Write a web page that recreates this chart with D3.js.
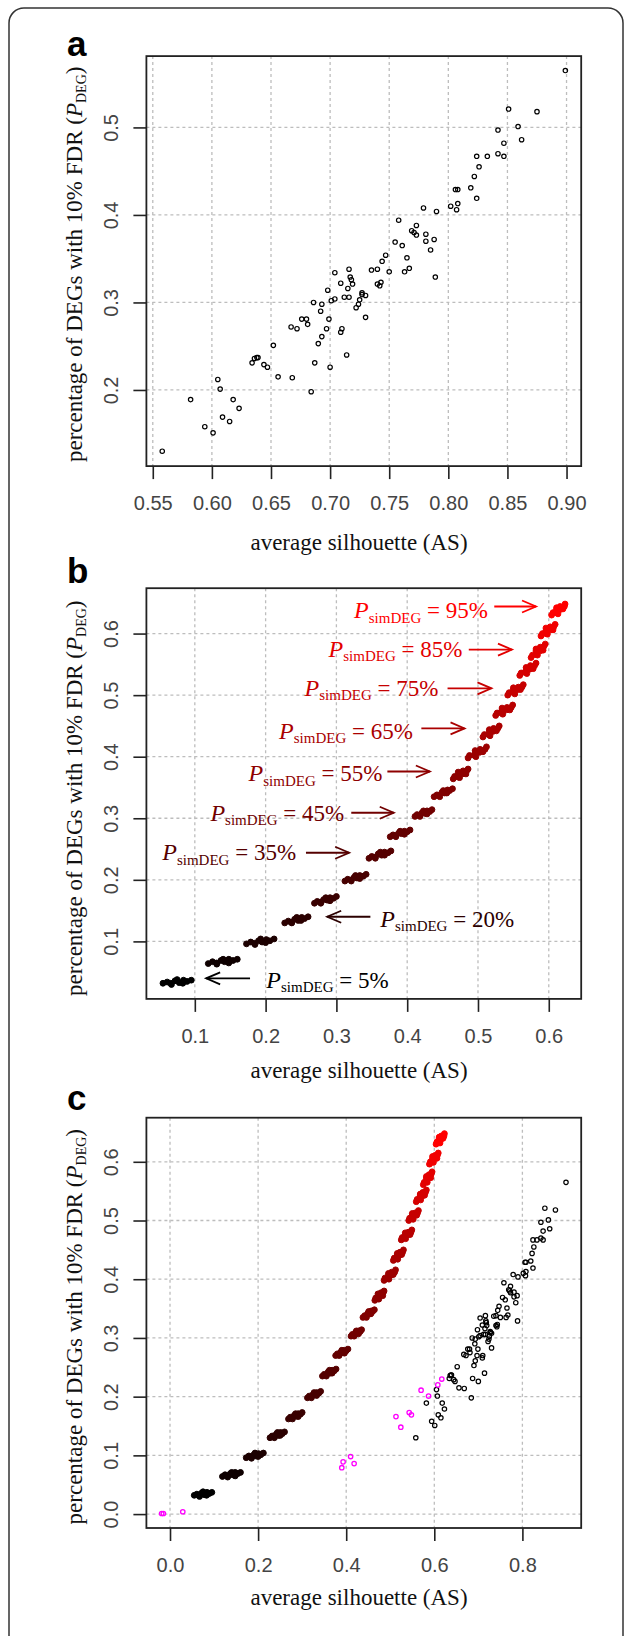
<!DOCTYPE html>
<html>
<head>
<meta charset="utf-8">
<script src="https://cdn.jsdelivr.net/npm/d3@7"></script>
<style>
  body { margin: 0; background: #fff; }
</style>
</head>
<body>
<svg id="fig" width="627" height="1636"></svg>
<script>
// real data sets (AS, P_DEG) - panel a and black circles of panel c
const realPoints = [
  [0.558,0.130],[0.582,0.189],[0.594,0.158],[0.601,0.151],[0.605,0.212],[0.607,0.201],[0.609,0.169],[0.615,0.164],[0.618,0.189],[0.623,0.179],
  [0.634,0.231],[0.636,0.236],[0.638,0.237],[0.639,0.237],[0.644,0.229],[0.647,0.226],[0.652,0.251],[0.656,0.215],[0.667,0.272],[0.668,0.214],
  [0.672,0.270],[0.676,0.281],[0.680,0.281],[0.681,0.275],[0.684,0.198],[0.686,0.300],[0.687,0.231],[0.690,0.253],[0.692,0.290],[0.693,0.298],
  [0.693,0.261],[0.697,0.270],[0.698,0.314],[0.699,0.281],[0.700,0.226],[0.701,0.302],[0.704,0.334],[0.704,0.304],[0.709,0.322],[0.709,0.266],
  [0.710,0.270],[0.712,0.306],[0.714,0.240],[0.715,0.316],[0.716,0.338],[0.716,0.306],[0.717,0.329],[0.718,0.326],[0.719,0.321],[0.722,0.294],
  [0.724,0.298],[0.725,0.303],[0.727,0.311],[0.727,0.309],[0.730,0.308],[0.730,0.283],[0.735,0.337],[0.740,0.338],[0.744,0.347],[0.747,0.354],
  [0.740,0.321],[0.742,0.319],[0.743,0.323],[0.750,0.335],[0.755,0.369],[0.758,0.394],[0.761,0.365],[0.763,0.335],[0.765,0.351],[0.767,0.339],
  [0.769,0.382],[0.771,0.380],[0.773,0.388],[0.773,0.377],[0.781,0.378],[0.781,0.370],[0.785,0.360],[0.788,0.372],[0.789,0.329],[0.779,0.408],
  [0.790,0.404],[0.802,0.410],[0.806,0.429],[0.808,0.429],[0.808,0.413],[0.807,0.406],[0.819,0.431],[0.822,0.444],[0.824,0.419],[0.826,0.455],
  [0.824,0.467],[0.833,0.467],[0.842,0.470],[0.847,0.467],[0.847,0.482],[0.842,0.497],[0.862,0.486],[0.859,0.501],[0.851,0.521],[0.875,0.518],
  [0.899,0.565]
];

// simulated data sets, one group per P_simDEG level
const simLevels = [5,10,15,20,25,30,35,40,45,50,55,60,65,70,75,80,85,90,95];
const simPoints = [
  [[.055,.032],[.061,.034],[.066,.032],[.072,.036],[.078,.033],[.084,.037],[.089,.035],[.095,.037],[.067,.030],[.075,.038],[.083,.032]],
  [[.119,.064],[.125,.067],[.131,.065],[.137,.069],[.142,.067],[.148,.071],[.154,.069],[.160,.071],[.131,.063],[.140,.071],[.148,.065]],
  [[.173,.096],[.179,.099],[.184,.097],[.190,.101],[.195,.099],[.201,.103],[.206,.101],[.212,.104],[.185,.095],[.193,.104],[.200,.098]],
  [[.227,.130],[.232,.133],[.236,.131],[.241,.136],[.246,.134],[.251,.139],[.255,.137],[.260,.140],[.237,.130],[.244,.139],[.250,.134]],
  [[.269,.162],[.273,.165],[.278,.164],[.282,.168],[.287,.167],[.291,.171],[.296,.170],[.300,.173],[.278,.162],[.285,.171],[.291,.166]],
  [[.312,.198],[.316,.201],[.321,.200],[.325,.204],[.329,.203],[.333,.207],[.338,.206],[.342,.209],[.321,.198],[.327,.207],[.333,.202]],
  [[.346,.235],[.350,.238],[.355,.237],[.359,.242],[.364,.240],[.368,.245],[.373,.244],[.377,.247],[.355,.235],[.362,.245],[.368,.240]],
  [[.376,.270],[.380,.273],[.384,.272],[.388,.276],[.392,.275],[.396,.279],[.400,.278],[.404,.281],[.384,.270],[.390,.279],[.396,.274]],
  [[.411,.303],[.414,.306],[.418,.305],[.421,.309],[.425,.308],[.428,.312],[.432,.311],[.435,.314],[.418,.303],[.423,.312],[.428,.307]],
  [[.438,.335],[.442,.338],[.445,.337],[.449,.342],[.453,.341],[.457,.346],[.460,.345],[.464,.348],[.446,.335],[.451,.345],[.456,.341]],
  [[.465,.364],[.467,.368],[.472,.367],[.473,.372],[.478,.372],[.479,.377],[.484,.377],[.486,.380],[.474,.366],[.472,.375],[.483,.372]],
  [[.486,.398],[.488,.402],[.495,.402],[.496,.407],[.502,.407],[.503,.412],[.510,.412],[.512,.416],[.497,.400],[.496,.410],[.507,.408]],
  [[.507,.432],[.509,.436],[.515,.436],[.516,.441],[.521,.441],[.522,.446],[.528,.446],[.530,.450],[.517,.434],[.516,.444],[.526,.442]],
  [[.525,.467],[.527,.471],[.533,.471],[.534,.476],[.540,.476],[.541,.480],[.547,.480],[.549,.484],[.535,.469],[.534,.479],[.545,.476]],
  [[.542,.500],[.544,.504],[.550,.504],[.550,.509],[.556,.509],[.557,.513],[.562,.513],[.564,.517],[.552,.502],[.550,.512],[.560,.509]],
  [[.559,.532],[.561,.536],[.567,.537],[.568,.542],[.573,.542],[.574,.548],[.580,.548],[.582,.552],[.569,.535],[.568,.545],[.578,.543]],
  [[.575,.561],[.577,.565],[.582,.566],[.582,.572],[.588,.572],[.588,.578],[.593,.579],[.595,.583],[.584,.565],[.582,.575],[.592,.573]],
  [[.589,.596],[.591,.600],[.596,.600],[.596,.605],[.602,.606],[.602,.611],[.607,.611],[.609,.615],[.598,.599],[.596,.609],[.606,.606]],
  [[.604,.630],[.606,.634],[.611,.634],[.611,.639],[.616,.639],[.616,.644],[.622,.644],[.623,.648],[.613,.632],[.611,.642],[.620,.640]]
];

// magenta points in panel c
const magentaPoints = [
  [-0.019,0.001],[-0.015,0.001],[0.029,0.004],[0.390,0.079],[0.393,0.089],[0.410,0.098],[0.418,0.086],
  [0.513,0.166],[0.524,0.148],[0.543,0.173],[0.548,0.169],[0.570,0.211],[0.587,0.201],[0.608,0.220],[0.617,0.230]
];

// panel b annotations (data coordinates)
const annotLevels = [95,85,75,65,55,45,35,20,5];
const annotText = [[0.325,0.625],[0.289,0.562],[0.255,0.499],[0.219,0.429],[0.176,0.360],[0.122,0.296],[0.054,0.232],[0.362,0.124],[0.201,0.025]];
const annotTail = [[0.523,0.644],[0.487,0.574],[0.457,0.511],[0.420,0.446],[0.372,0.376],[0.321,0.309],[0.257,0.244],[0.348,0.140],[0.178,0.040]];
const annotHead = [[0.582,0.644],[0.548,0.574],[0.519,0.511],[0.481,0.446],[0.432,0.376],[0.381,0.309],[0.318,0.244],[0.287,0.140],[0.116,0.040]];

// ticks
const ticksAx = [0.55,0.60,0.65,0.70,0.75,0.80,0.85,0.90];
const ticksAy = [0.2,0.3,0.4,0.5];
const ticksBx = [0.1,0.2,0.3,0.4,0.5,0.6];
const ticksBy = [0.1,0.2,0.3,0.4,0.5,0.6];
const ticksCx = [0.0,0.2,0.4,0.6,0.8];
const ticksCy = [0.0,0.1,0.2,0.3,0.4,0.5,0.6];

const sans = "'Liberation Sans', Arial, sans-serif";
const serif = "'Liberation Serif', 'Times New Roman', serif";
const boxL = 146.4, boxR = 581.2;

const svg = d3.select("#fig");
svg.append("rect")
  .attr("x", 9).attr("y", 8).attr("width", 614).attr("height", 1650).attr("rx", 15)
  .attr("fill", "none").attr("stroke", "#333").attr("stroke-width", 1.5);

const simColor = d3.scaleLinear().domain([5, 95]).range(["#000000", "#ff0000"]);

function drawPanel(p) {
  const x = d3.scaleLinear().domain(p.xDomain).range([boxL, boxR]);
  const y = d3.scaleLinear().domain(p.yDomain).range([p.bottom, p.top]);
  const g = svg.append("g");

  // dotted grid
  g.append("g").selectAll("line").data(p.xTicks).join("line")
    .attr("x1", d => x(d)).attr("x2", d => x(d)).attr("y1", p.top).attr("y2", p.bottom)
    .attr("stroke", "#bdbdbd").attr("stroke-width", 1.3).attr("stroke-dasharray", "3,3");
  g.append("g").selectAll("line").data(p.yTicks).join("line")
    .attr("y1", d => y(d)).attr("y2", d => y(d)).attr("x1", boxL).attr("x2", boxR)
    .attr("stroke", "#bdbdbd").attr("stroke-width", 1.3).attr("stroke-dasharray", "3,3");

  // axes
  const xa = g.append("g").attr("transform", `translate(0,${p.bottom})`)
    .call(d3.axisBottom(x).tickValues(p.xTicks).tickFormat(d3.format(p.xFmt)).tickSize(13).tickPadding(17));
  xa.select(".domain").remove();
  xa.selectAll("line").attr("stroke", "#222").attr("stroke-width", 1.6);
  xa.selectAll("text").attr("font-family", sans).attr("font-size", 20).attr("fill", "#444");

  const ya = g.append("g").attr("transform", `translate(${boxL},0)`)
    .call(d3.axisLeft(y).tickValues(p.yTicks).tickFormat(d3.format(".1f")).tickSize(13));
  ya.select(".domain").remove();
  ya.selectAll("line").attr("stroke", "#222").attr("stroke-width", 1.6);
  ya.selectAll("text").attr("x", null).attr("dy", null)
    .attr("transform", "translate(-28,0) rotate(-90)").attr("text-anchor", "middle")
    .attr("font-family", sans).attr("font-size", 20).attr("fill", "#444");

  // marks
  p.layers.forEach(layer => layer(g, x, y));

  // box
  g.append("rect").attr("x", boxL).attr("y", p.top).attr("width", boxR - boxL).attr("height", p.bottom - p.top)
    .attr("fill", "none").attr("stroke", "#222").attr("stroke-width", 1.8);

  // panel letter
  svg.append("text").attr("x", 67).attr("y", p.letterY).text(p.letter)
    .attr("font-family", sans).attr("font-weight", "bold").attr("font-size", 35).attr("fill", "#000");

  // axis titles
  svg.append("text").attr("x", 359).attr("y", p.xTitleY).attr("text-anchor", "middle")
    .attr("font-family", serif).attr("font-size", 23).attr("fill", "#111")
    .text("average silhouette (AS)");

  const yt = svg.append("text").attr("transform", `translate(82,${p.yTitleY}) rotate(-90)`)
    .attr("text-anchor", "middle").attr("font-family", serif).attr("font-size", 23).attr("fill", "#111");
  yt.append("tspan").text("percentage of DEGs with 10% FDR (");
  yt.append("tspan").attr("font-style", "italic").text("P");
  yt.append("tspan").attr("font-size", 14).attr("dy", 4).text("DEG");
  yt.append("tspan").attr("dy", -4).text(")");
}

function realLayer(g, x, y) {
  g.append("g").selectAll("circle").data(realPoints).join("circle")
    .attr("cx", d => x(d[0])).attr("cy", d => y(d[1])).attr("r", 2.2)
    .attr("fill", "none").attr("stroke", "#000").attr("stroke-width", 1.2);
}

function simLayer(g, x, y) {
  simPoints.forEach((pts, i) => {
    const c = simColor(simLevels[i]);
    g.append("g").selectAll("circle").data(pts).join("circle")
      .attr("cx", d => x(d[0])).attr("cy", d => y(d[1])).attr("r", 2.9)
      .attr("fill", c).attr("stroke", c).attr("stroke-width", 1);
  });
}

function magentaLayer(g, x, y) {
  g.append("g").selectAll("circle").data(magentaPoints).join("circle")
    .attr("cx", d => x(d[0])).attr("cy", d => y(d[1])).attr("r", 2.2)
    .attr("fill", "none").attr("stroke", "#ff00ff").attr("stroke-width", 1.3);
}

function annotLayer(g, x, y) {
  annotLevels.forEach((lvl, i) => {
    const c = simColor(lvl);
    const t = g.append("text").attr("x", x(annotText[i][0])).attr("y", y(annotText[i][1]))
      .attr("font-family", serif).attr("font-size", 23).attr("fill", c);
    t.append("tspan").attr("font-style", "italic").attr("font-size", 24).text("P");
    t.append("tspan").attr("font-size", 15).attr("dy", 4.5).text("simDEG");
    t.append("tspan").attr("dy", -4.5).text(" = " + lvl + "%");

    const x1 = x(annotTail[i][0]), x2 = x(annotHead[i][0]), ay = y(annotTail[i][1]);
    const dir = Math.sign(x2 - x1);
    g.append("line").attr("x1", x1).attr("x2", x2).attr("y1", ay).attr("y2", ay)
      .attr("stroke", c).attr("stroke-width", 1.8);
    g.append("polyline")
      .attr("points", `${x2 - dir * 14},${ay - 6} ${x2},${ay} ${x2 - dir * 14},${ay + 6}`)
      .attr("fill", "none").attr("stroke", c).attr("stroke-width", 1.8);
  });
}

drawPanel({
  top: 56.1, bottom: 466.1, xDomain: [0.5446, 0.9124], yDomain: [0.113, 0.5815],
  xTicks: ticksAx, yTicks: ticksAy, xFmt: ".2f",
  letter: "a", letterY: 55.5, xTitleY: 549.5, yTitleY: 264.3,
  layers: [realLayer]
});

drawPanel({
  top: 588.2, bottom: 998.9, xDomain: [0.0316, 0.6458], yDomain: [0.0066, 0.6737],
  xTicks: ticksBx, yTicks: ticksBy, xFmt: ".1f",
  letter: "b", letterY: 582.9, xTitleY: 1078, yTitleY: 798.2,
  layers: [simLayer, annotLayer]
});

drawPanel({
  top: 1117.7, bottom: 1528, xDomain: [-0.0536, 0.9335], yDomain: [-0.0237, 0.6751],
  xTicks: ticksCx, yTicks: ticksCy, xFmt: ".1f",
  letter: "c", letterY: 1109.6, xTitleY: 1605, yTitleY: 1326.7,
  layers: [simLayer, realLayer, magentaLayer]
});
</script>
</body>
</html>
